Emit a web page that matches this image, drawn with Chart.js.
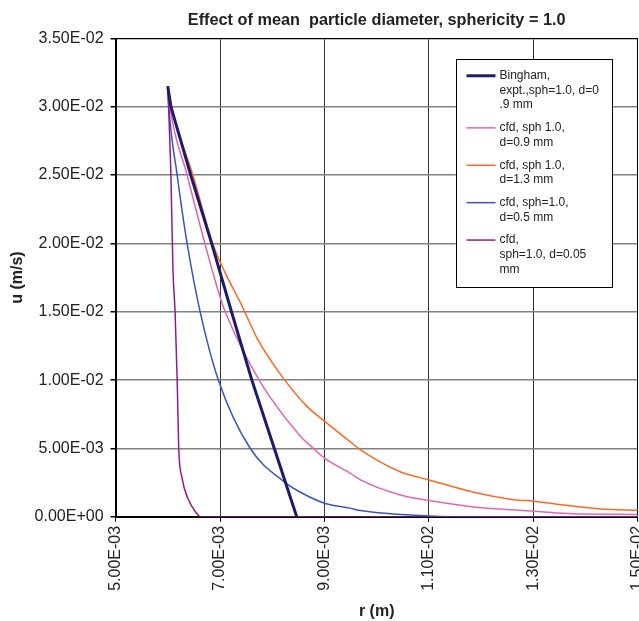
<!DOCTYPE html>
<html><head><meta charset="utf-8">
<script src="https://cdn.jsdelivr.net/npm/chart.js@4.4.0/dist/chart.umd.min.js"></script>
<style>html,body{margin:0;padding:0;background:#fff;overflow:hidden}#wrap{position:relative;width:661px;height:621px}</style>
</head><body><div id="wrap"><canvas id="c"></canvas></div>
<script>
const titleText = 'Effect of mean  particle diameter, sphericity = 1.0';
const xTitle = 'r (m)';
const yTitle = 'u (m/s)';
const xMin = 0.005, xMax = 0.015, xStep = 0.002;
const yMin = 0, yMax = 0.035, yStep = 0.005;

const binghamR = [0.0060, 0.00606, 0.00644, 0.00684, 0.00722, 0.00761, 0.00804, 0.00847];
const binghamU = [0.0315, 0.030, 0.025, 0.020, 0.015, 0.010, 0.005, 0];

const pinkR = [0.0060, 0.00604, 0.00637, 0.00671, 0.00700, 0.00710, 0.00775, 0.00854, 0.00879, 0.00900, 0.00949, 0.00969, 0.01045, 0.01100, 0.01186, 0.01301, 0.01365, 0.01500];
const pinkU = [0.0315, 0.030, 0.025, 0.020, 0.0161, 0.015, 0.010, 0.0059, 0.0050, 0.0043, 0.0032, 0.0027, 0.0016, 0.0012, 0.00073, 0.00041, 0.00024, 0.00017];

const orangeR = [0.0060, 0.00607, 0.00648, 0.00688, 0.00745, 0.00772, 0.00820, 0.00866, 0.00900, 0.00949, 0.00969, 0.01045, 0.01100, 0.01186, 0.01262, 0.01301, 0.01365, 0.01429, 0.01500];
const orangeU = [0.0315, 0.030, 0.025, 0.0198, 0.0152, 0.0130, 0.0102, 0.0081, 0.0070, 0.0055, 0.0049, 0.0033, 0.0027, 0.0018, 0.00126, 0.00114, 0.00083, 0.00058, 0.00048];

const blueR = [0.0060, 0.00602, 0.00618, 0.00637, 0.00662, 0.00697, 0.00758, 0.00825, 0.00854, 0.00900, 0.00949, 0.00969, 0.01100, 0.01205, 0.01500];
const blueU = [0.0315, 0.030, 0.025, 0.020, 0.015, 0.010, 0.005, 0.0025, 0.0018, 0.0010, 0.00064, 0.00046, 0.00007, 0, 0];

const purpleR = [0.0060, 0.00606, 0.00610, 0.00614, 0.00618, 0.00621, 0.00627, 0.00639, 0.00655, 0.00663, 0.01500];
const purpleU = [0.0315, 0.025, 0.018, 0.015, 0.010, 0.005, 0.0029, 0.0013, 0.00027, 0, 0];

const seriesLabels = [
  ['Bingham,', 'expt.,sph=1.0, d=0', '.9 mm'],
  ['cfd, sph 1.0,', 'd=0.9 mm'],
  ['cfd, sph 1.0,', 'd=1.3 mm'],
  ['cfd, sph=1.0,', 'd=0.5 mm'],
  ['cfd,', 'sph=1.0, d=0.05', 'mm']
];

const FONT = '"Liberation Sans", Arial, Helvetica, sans-serif';

function pts(rs, us) { return rs.map((r, i) => ({ x: r, y: us[i] })); }
function sci(v) {
  const s = Number(v).toExponential(2);
  const parts = s.split('e');
  const n = parseInt(parts[1], 10);
  return parts[0] + 'E' + (n < 0 ? '-' : '+') + String(Math.abs(n)).padStart(2, '0');
}

const frame = {
  id: 'frame',
  beforeDatasetsDraw(chart) {
    const a = chart.chartArea, ctx = chart.ctx;
    ctx.save();
    ctx.strokeStyle = '#000';
    ctx.lineWidth = 1;
    ctx.strokeRect(Math.round(a.left) + 0.5, Math.round(a.top) + 0.5, Math.round(a.right - a.left) - 1, Math.round(a.bottom - a.top));
    ctx.restore();
  }
};

const boxLegend = {
  id: 'boxLegend',
  afterDraw(chart) {
    const a = chart.chartArea, ctx = chart.ctx;
    const L = a.right - 182, T = a.top + 21, W = 156, H = 228;
    ctx.save();
    ctx.fillStyle = '#fff';
    ctx.fillRect(L, T, W, H);
    ctx.strokeStyle = '#000';
    ctx.lineWidth = 1;
    ctx.strokeRect(Math.round(L) + 0.5, Math.round(T) + 0.5, W, H);
    ctx.font = '12px ' + FONT;
    ctx.textBaseline = 'middle';
    ctx.textAlign = 'left';
    let y = T + 16.4;
    chart.data.datasets.forEach((ds, i) => {
      const lines = seriesLabels[i];
      ctx.strokeStyle = ds.borderColor;
      ctx.lineWidth = ds.borderWidth;
      ctx.beginPath();
      ctx.moveTo(L + 10.7, y);
      ctx.lineTo(L + 39.7, y);
      ctx.stroke();
      ctx.fillStyle = '#222';
      lines.forEach((t, k) => ctx.fillText(t, L + 43.7, y + k * 14.7));
      y += lines.length * 14.7 + 8;
    });
    ctx.restore();
  }
};

const mk = (label, data, color, w, order, smooth) => ({
  label, data, borderColor: color, backgroundColor: color, borderWidth: w,
  showLine: true, pointRadius: 0, pointHoverRadius: 0, order,
  cubicInterpolationMode: smooth ? 'monotone' : 'default', tension: smooth ? 0.4 : 0
});

new Chart(document.getElementById('c'), {
  type: 'scatter',
  data: {
    datasets: [
      mk(seriesLabels[0].join(' '), pts(binghamR, binghamU), '#1c1c6b', 3, 0, false),
      mk(seriesLabels[1].join(' '), pts(pinkR, pinkU), '#e065b5', 1.5, 2, true),
      mk(seriesLabels[2].join(' '), pts(orangeR, orangeU), '#ff6820', 1.5, 3, true),
      mk(seriesLabels[3].join(' '), pts(blueR, blueU), '#3b54bd', 1.5, 4, true),
      mk(seriesLabels[4].join(' '), pts(purpleR, purpleU), '#8e1b8e', 1.5, 1, true)
    ]
  },
  options: {
    responsive: true, maintainAspectRatio: false, animation: false,
    layout: { padding: { left: -4, right: 0, top: 0, bottom: 0 } },
    plugins: {
      legend: { display: false },
      tooltip: { enabled: false },
      title: {
        display: true, text: titleText, fullSize: false, color: '#222',
        font: { family: FONT, size: 16.3, weight: 'bold' },
        padding: { top: 10.4, bottom: 8.4 }
      }
    },
    scales: {
      x: {
        type: 'linear', min: xMin, max: xMax,
        ticks: { stepSize: xStep, minRotation: 90, maxRotation: 90, autoSkip: false, color: '#222',
          font: { family: FONT, size: 16 }, padding: 4, callback: v => sci(v) },
        grid: { color: '#333', lineWidth: 1, tickColor: '#000', tickLength: 5 },
        border: { color: '#000', width: 1 },
        title: { display: true, text: xTitle, color: '#222', font: { family: FONT, size: 16, weight: 'bold' }, padding: { top: 7, bottom: 0 } }
      },
      y: {
        type: 'linear', min: yMin, max: yMax,
        ticks: { stepSize: yStep, color: '#222', font: { family: FONT, size: 16 }, padding: 7, callback: v => sci(v) },
        grid: { color: '#808080', lineWidth: 1.5, tickColor: '#000', tickLength: 5 },
        border: { color: '#000', width: 1 },
        title: { display: true, text: yTitle, color: '#222', font: { family: FONT, size: 16, weight: 'bold' }, padding: { top: 12.4, bottom: 0 } }
      }
    }
  },
  plugins: [frame, boxLegend]
});
</script></body></html>
